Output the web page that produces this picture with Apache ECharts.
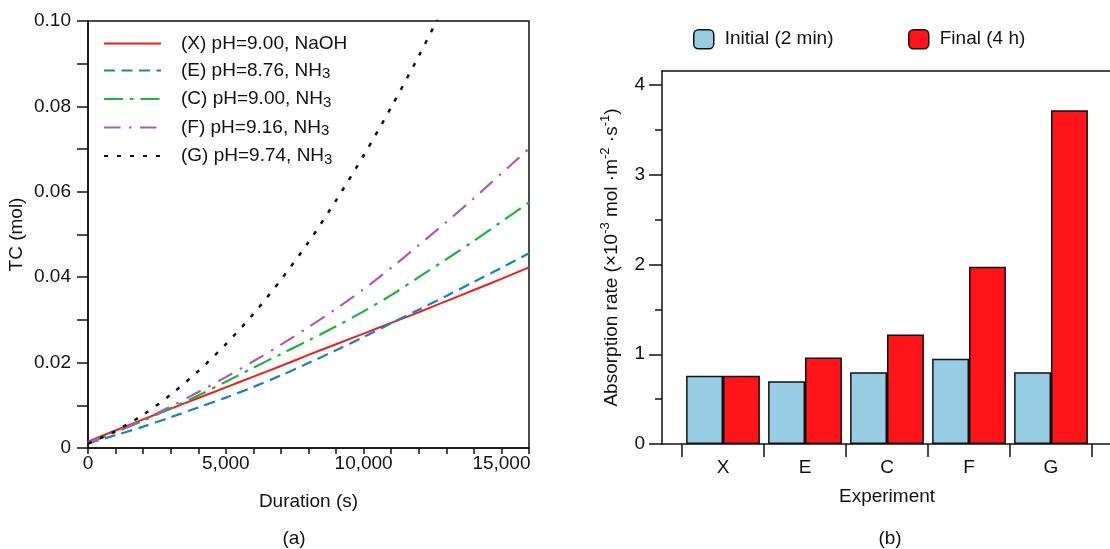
<!DOCTYPE html>
<html>
<head>
<meta charset="utf-8">
<title>TC and absorption rate</title>
<script src="https://cdn.jsdelivr.net/npm/echarts@6/dist/echarts.min.js"></script>
<style>
  html, body { margin: 0; padding: 0; background: #fff; }
  #chart { width: 1110px; height: 549px; }
</style>
</head>
<body>
<div id="chart"></div>
<script>
// ---- (a) total carbon vs. duration ----
const durations = [0, 1000, 2000, 3000, 4000, 5000, 6000, 7000, 8000, 9000, 10000, 11000, 12000, 13000, 14000, 15000, 16000];
const tcX = [0.0015, 0.0041, 0.0067, 0.0092, 0.0117, 0.0142, 0.0167, 0.0192, 0.0218, 0.0243, 0.0268, 0.0293, 0.0318, 0.0344, 0.0370, 0.0396, 0.0423];
const tcE = [0.0011, 0.0030, 0.0050, 0.0072, 0.0095, 0.0118, 0.0143, 0.0170, 0.0199, 0.0229, 0.0260, 0.0292, 0.0324, 0.0356, 0.0389, 0.0422, 0.0456];
const tcC = [0.0012, 0.0037, 0.0064, 0.0093, 0.0123, 0.0155, 0.0188, 0.0220, 0.0252, 0.0285, 0.0320, 0.0358, 0.0400, 0.0442, 0.0485, 0.0530, 0.0575];
const tcF = [0.0012, 0.0038, 0.0066, 0.0097, 0.0131, 0.0166, 0.0203, 0.0242, 0.0283, 0.0326, 0.0372, 0.0422, 0.0475, 0.0529, 0.0585, 0.0643, 0.0701];
const tcG = [0.0010, 0.0040, 0.0078, 0.0125, 0.0180, 0.0243, 0.0314, 0.0394, 0.0482, 0.0580, 0.0685, 0.0798, 0.0918, 0.1045];
const seriesNames = ['(X) pH=9.00, NaOH', '(E) pH=8.76, NH3', '(C) pH=9.00, NH3', '(F) pH=9.16, NH3', '(G) pH=9.74, NH3'];

// ---- (b) absorption rate per experiment ----
const experiments = ['X', 'E', 'C', 'F', 'G'];
const rateInitial = [0.76, 0.70, 0.80, 0.95, 0.80];
const rateFinal = [0.76, 0.965, 1.22, 1.975, 3.72];

const FONT = "'Liberation Sans', Arial, Helvetica, sans-serif";
const INK = '#111';

function pairs(xs, ys) { return ys.map((y, i) => [xs[i], y]); }

function lineSeries(name, data, color, type, width) {
  return {
    name, type: 'line', xAxisIndex: 0, yAxisIndex: 0,
    data: pairs(durations, data), smooth: 0.3, symbol: 'none', clip: true,
    lineStyle: { color, width: width || 2, type: type || 'solid', cap: 'butt' },
    itemStyle: { color }
  };
}

const chart = echarts.init(document.getElementById('chart'), null, { renderer: 'canvas' });

const option = {
  animation: false,
  textStyle: { fontFamily: FONT, color: INK },
  grid: [
    { left: 88, right: 581, top: 21, bottom: 101, show: true, borderColor: INK, borderWidth: 1.5, backgroundColor: 'transparent' },
    { left: 662, right: -30, top: 71, bottom: 105 },
    { left: 682, width: 410, top: 85, bottom: 105 }
  ],
  legend: [
    {
      data: seriesNames, orient: 'vertical', left: 103, top: 34, padding: 0,
      itemWidth: 57, itemHeight: 4, itemGap: 8,
      itemStyle: { opacity: 0 },
      formatter: n => n.endsWith('NH3') ? '{t|' + n.slice(0, -1) + '}{s|3}' : '{t|' + n + '}',
      textStyle: {
        padding: [0, 0, 0, 15],
        rich: {
          t: { fontSize: 19, lineHeight: 22, fontFamily: FONT, color: INK },
          s: { fontSize: 15, verticalAlign: 'bottom', fontFamily: FONT, color: INK }
        }
      }
    },
    {
      data: ['Initial (2 min)'], left: 693, top: 29, padding: 0, icon: 'roundRect',
      itemWidth: 20, itemHeight: 19,
      itemStyle: { borderColor: INK, borderWidth: 1.5 },
      textStyle: { fontSize: 19, color: INK, padding: [0, 0, 0, 6] }
    },
    {
      data: ['Final (4 h)'], left: 908, top: 29, padding: 0, icon: 'roundRect',
      itemWidth: 20, itemHeight: 19,
      itemStyle: { borderColor: INK, borderWidth: 1.5 },
      textStyle: { fontSize: 19, color: INK, padding: [0, 0, 0, 6] }
    }
  ],
  xAxis: [
    {
      gridIndex: 0, type: 'value', min: 0, max: 16000, interval: 1000,
      name: 'Duration (s)', nameLocation: 'middle', nameGap: 44,
      nameTextStyle: { fontSize: 19, color: INK },
      axisLine: { show: true, onZero: false, lineStyle: { color: INK, width: 1.5 } },
      axisTick: { show: true, inside: false, length: 6, lineStyle: { color: INK, width: 1.5 } },
      axisLabel: {
        fontSize: 19, color: INK, margin: 6,
        formatter: v => (Math.round(v) % 5000 === 0 && v < 16000) ? v.toLocaleString('en-US') : ''
      },
      splitLine: { show: false }
    },
    {
      gridIndex: 1, type: 'value', min: 0, max: 1, position: 'bottom',
      axisLine: { show: true, onZero: false, lineStyle: { color: INK, width: 1.5 } },
      axisTick: { show: false }, axisLabel: { show: false }, splitLine: { show: false }
    },
    {
      gridIndex: 1, type: 'value', min: 0, max: 1, position: 'top',
      axisLine: { show: true, onZero: false, lineStyle: { color: INK, width: 1.5 } },
      axisTick: { show: false }, axisLabel: { show: false }, splitLine: { show: false }
    },
    {
      gridIndex: 2, type: 'category', data: experiments,
      name: 'Experiment', nameLocation: 'middle', nameGap: 43,
      nameTextStyle: { fontSize: 19, color: INK },
      axisLine: { show: false },
      axisTick: { show: true, alignWithLabel: false, interval: 0, length: 13, lineStyle: { color: INK, width: 1.5 } },
      axisLabel: { fontSize: 19, color: INK, margin: 14, interval: 0 }
    }
  ],
  yAxis: [
    {
      gridIndex: 0, type: 'value', min: 0, max: 0.10, interval: 0.01,
      name: 'TC (mol)', nameLocation: 'middle', nameGap: 47, nameRotate: 90,
      nameTextStyle: { fontSize: 19, color: INK, lineHeight: 26 },
      axisLine: { show: true, onZero: false, lineStyle: { color: INK, width: 1.5 } },
      axisTick: { show: true, inside: false, length: 11, lineStyle: { color: INK, width: 1.5 } },
      axisLabel: {
        fontSize: 19, color: INK, margin: 17,
        formatter: v => { const k = Math.round(v * 100); return k % 2 ? '' : (k === 0 ? '0' : v.toFixed(2)); }
      },
      splitLine: { show: false }
    },
    {
      gridIndex: 1, type: 'value', min: 0, max: 1,
      name: '{t|Absorption rate (×10}{p|-3}{t| mol ·m}{p|-2}{t| ·s}{p|-1}{t|)}',
      nameLocation: 'middle', nameGap: 37, nameRotate: 90,
      nameTextStyle: {
        rich: {
          t: { fontSize: 19, lineHeight: 26, fontFamily: FONT, color: INK },
          p: { fontSize: 13, verticalAlign: 'top', fontFamily: FONT, color: INK }
        }
      },
      axisLine: { show: true, onZero: false, lineStyle: { color: INK, width: 1.5 } },
      axisTick: { show: false }, axisLabel: { show: false }, splitLine: { show: false }
    },
    {
      gridIndex: 2, type: 'value', min: 0, max: 4, interval: 1, offset: 20,
      axisLine: { show: false },
      axisTick: { show: true, length: 13, lineStyle: { color: INK, width: 1.5 } },
      minorTick: { show: true, splitNumber: 2, length: 7, lineStyle: { color: INK, width: 1.5 } },
      axisLabel: { fontSize: 19, color: INK, margin: 17 },
      splitLine: { show: false }, minorSplitLine: { show: false }
    }
  ],
  series: [
    lineSeries(seriesNames[0], tcX, '#f21d1d', 'solid', 2),
    lineSeries(seriesNames[1], tcE, '#1c7fc2', [11, 6.5], 2.2),
    lineSeries(seriesNames[2], tcC, '#1fb23c', [19, 7, 3.5, 7], 2.2),
    lineSeries(seriesNames[3], tcF, '#b058b4', [16.5, 8.5, 2.5, 8.5], 2.2),
    lineSeries(seriesNames[4], tcG, '#111111', [4, 9], 2.5),
    {
      name: 'Initial (2 min)', type: 'bar', xAxisIndex: 3, yAxisIndex: 2,
      data: rateInitial, barGap: '0%', barCategoryGap: '10%',
      itemStyle: { color: '#96cde3', borderColor: INK, borderWidth: 1.5 }
    },
    {
      name: 'Final (4 h)', type: 'bar', xAxisIndex: 3, yAxisIndex: 2,
      data: rateFinal, barGap: '0%', barCategoryGap: '10%',
      itemStyle: { color: '#ff1419', borderColor: INK, borderWidth: 1.5 }
    }
  ],
  graphic: [
    { type: 'text', x: 294, y: 539, style: { text: '(a)', fontSize: 19, fontFamily: FONT, fill: INK, align: 'center', verticalAlign: 'middle' } },
    { type: 'text', x: 890, y: 539, style: { text: '(b)', fontSize: 19, fontFamily: FONT, fill: INK, align: 'center', verticalAlign: 'middle' } }
  ]
};

chart.setOption(option);
</script>
</body>
</html>
